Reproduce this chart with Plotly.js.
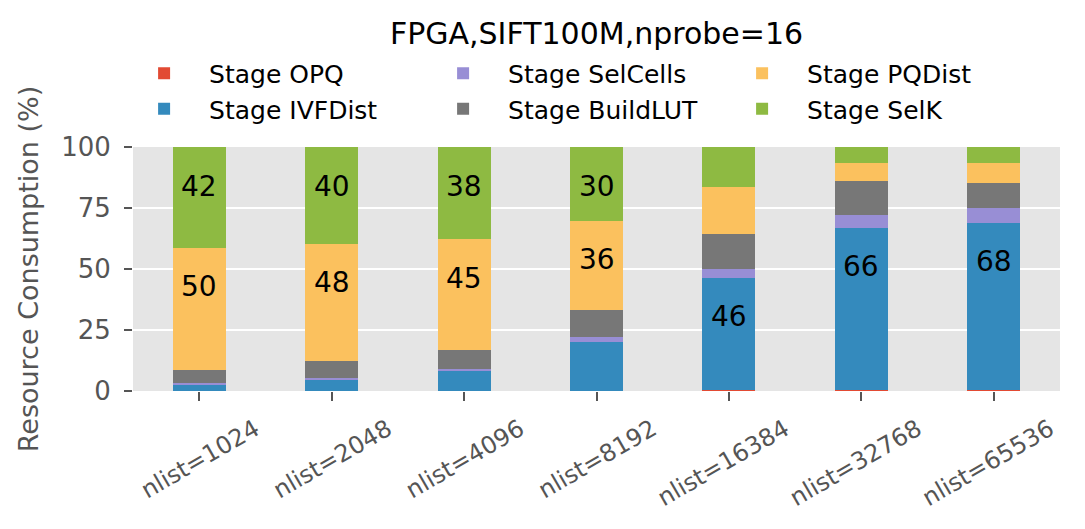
<!DOCTYPE html>
<html>
<head>
<meta charset="utf-8">
<script src="https://cdn.plot.ly/plotly-3.0.1.min.js"></script>
<style>
  html, body { margin: 0; padding: 0; background: white; }
  #chart { width: 1085px; height: 529px; }
</style>
</head>
<body>
<div id="chart"></div>
<script>
// nlist settings on the x axis
var categories = ['nlist=1024', 'nlist=2048', 'nlist=4096', 'nlist=8192',
                  'nlist=16384', 'nlist=32768', 'nlist=65536'];

// resource share of each stage (%)
var stageOPQ      = [0, 0, 0, 0, 0.4, 0.6, 0.6];
var stageIVFDist  = [2.5, 4.5, 8.2, 20.1, 46.0, 66.4, 68.4];
var stageSelCells = [0.8, 0.8, 0.8, 2.1, 3.7, 5.3, 6.0];
var stageBuildLUT = [5.5, 7.2, 7.8, 11.1, 14.4, 13.6, 10.1];
var stagePQDist   = [50, 47.9, 45.4, 36.4, 19.3, 7.4, 8.2];
var stageSelK     = [42, 40, 38, 30.3, 16.2, 6.7, 6.7];

var stageNames = ['Stage OPQ', 'Stage IVFDist', 'Stage SelCells',
                  'Stage BuildLUT', 'Stage PQDist', 'Stage SelK'];

var stages = [stageOPQ, stageIVFDist, stageSelCells, stageBuildLUT, stagePQDist, stageSelK];
var colors = ['#E24A33', '#348ABD', '#988ED5', '#777777', '#FBC15E', '#8EBA42'];
// legend is filled column by column in the original (3 cols x 2 rows)
var ranks = [1, 4, 2, 5, 3, 6];

var font = 'DejaVu Sans, sans-serif';

var data = [];
for (var i = 0; i < stages.length; i++) {
    data.push({
        x: categories,
        y: stages[i],
        name: stageNames[i],
        type: 'bar',
        width: 0.4,
        legendrank: ranks[i],
        hoverinfo: 'name+y',
        marker: {color: colors[i], line: {width: 0}}
    });
}

// labels for the big segments, a bit under the top of each segment
var annotations = [];
var tops = categories.map(function() { return 0; });
for (var i = 0; i < stages.length; i++) {
    for (var j = 0; j < categories.length; j++) {
        var v = stages[i][j];
        tops[j] += v;
        if (v >= 25) {
            annotations.push({
                x: categories[j],
                y: Math.min(tops[j], 100),
                text: String(Math.round(v)),
                showarrow: false,
                yanchor: 'middle',
                yshift: -39,
                font: {family: font, size: 28, color: 'black'}
            });
        }
    }
}

var layout = {
    width: 1085,
    height: 529,
    paper_bgcolor: 'white',
    plot_bgcolor: '#E5E5E5',
    barmode: 'stack',
    margin: {t: 147, b: 138, l: 133, r: 25},
    font: {family: font},
    title: {
        text: 'FPGA,SIFT100M,nprobe=16',
        font: {family: font, size: 30, color: 'black'},
        x: 0.5,
        xref: 'paper',
        xanchor: 'center',
        y: 1 - 33 / 529,
        yref: 'container',
        yanchor: 'middle'
    },
    showlegend: true,
    legend: {
        orientation: 'h',
        traceorder: 'normal',
        x: -0.015,
        xanchor: 'left',
        y: 1.395,
        yanchor: 'top',
        entrywidth: 204,
        entrywidthmode: 'pixels',
        itemwidth: 80,
        font: {family: font, size: 25, color: 'black'},
        bgcolor: 'rgba(0,0,0,0)'
    },
    xaxis: {
        type: 'category',
        range: [-0.5, 6.5],
        showgrid: false,
        zeroline: false,
        showline: false,
        ticks: 'outside',
        ticklen: 9,
        tickwidth: 2,
        tickcolor: '#555555',
        tickangle: -30,
        ticklabelshift: 56,
        ticklabelstandoff: 5,
        tickfont: {family: font, size: 24, color: '#555555'},
        fixedrange: true
    },
    yaxis: {
        range: [0, 100],
        autorange: false,
        tickvals: [0, 25, 50, 75, 100],
        showgrid: true,
        gridcolor: 'white',
        gridwidth: 1.5,
        zeroline: false,
        showline: false,
        ticks: 'outside',
        ticklen: 8,
        tickwidth: 2,
        tickcolor: '#555555',
        ticklabelstandoff: 8,
        tickfont: {family: font, size: 26, color: '#555555'},
        title: {
            text: 'Resource Consumption (%)',
            font: {family: font, size: 27, color: '#555555'},
            standoff: 14
        },
        fixedrange: true
    },
    annotations: annotations
};

Plotly.newPlot('chart', data, layout, {displayModeBar: false, staticPlot: true});
</script>
</body>
</html>
